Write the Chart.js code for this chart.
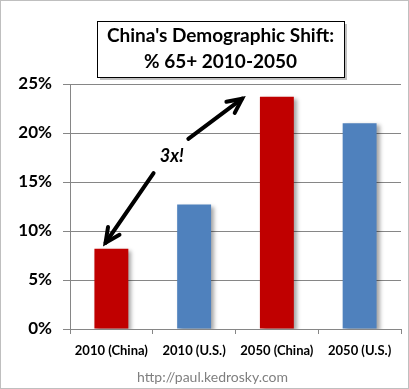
<!DOCTYPE html>
<html><head><meta charset="utf-8">
<script src="https://cdn.jsdelivr.net/npm/chart.js@4/dist/chart.umd.min.js"></script>
<style>html,body{margin:0;padding:0;background:#fff}#wrap{width:409px;height:389px;position:relative;box-sizing:border-box}canvas{display:block}</style>
</head><body><div id="wrap"><canvas id="c" width="409" height="389"></canvas></div>
<script>
const categories = ["2010 (China)", "2010 (U.S.)", "2050 (China)", "2050 (U.S.)"];
const values = [8.2, 12.7, 23.7, 21.0];
const barColors = ["#C00000", "#4F81BD", "#C00000", "#4F81BD"];
const yTicks = [0, 5, 10, 15, 20, 25];
const titleLines = ["China's Demographic Shift:", "% 65+ 2010-2050"];
const footer = "http://paul.kedrosky.com";
const annotationText = "3x!";
// arrow endpoints in (category index, value) terms
const arrowLow = [-0.07, 8.8];
const arrowHigh = [1.58, 23.5];
const arrowGapLow = [0.51, 15.9];
const arrowGapHigh = [0.93, 19.4];
const labelPos = [0.73, 17.6];

const FONT = "Lato, 'Open Sans', sans-serif";

const shadowPlugin = {
  id: 'barShadow',
  beforeDatasetsDraw(chart) {
    const ctx = chart.ctx; ctx.save();
    ctx.shadowColor = 'rgba(0,0,0,0.35)';
    ctx.shadowOffsetX = 3; ctx.shadowOffsetY = 2; ctx.shadowBlur = 4;
  },
  afterDatasetsDraw(chart) { chart.ctx.restore(); }
};

function arrowHead(ctx, x1, y1, x2, y2, len) {
  const a = Math.atan2(y2 - y1, x2 - x1);
  ctx.beginPath();
  ctx.moveTo(x2 - len * Math.cos(a - 0.45), y2 - len * Math.sin(a - 0.45));
  ctx.lineTo(x2, y2);
  ctx.lineTo(x2 - len * Math.cos(a + 0.45), y2 - len * Math.sin(a + 0.45));
  ctx.stroke();
}

const decorPlugin = {
  id: 'decor',
  afterDraw(chart) {
    const ctx = chart.ctx, xs = chart.scales.x, ys = chart.scales.y;
    const px = (p) => [xs.getPixelForValue(0) + p[0] * (xs.getPixelForValue(1) - xs.getPixelForValue(0)), ys.getPixelForValue(p[1])];
    ctx.save();
    // outer frame
    ctx.strokeStyle = '#BFBFBF'; ctx.lineWidth = 1;
    ctx.strokeRect(0.5, 0.5, chart.width - 1, chart.height - 1);
    // arrows
    const lo = px(arrowLow), hi = px(arrowHigh), gl = px(arrowGapLow), gh = px(arrowGapHigh);
    ctx.strokeStyle = '#000'; ctx.lineWidth = 4; ctx.lineCap = 'round'; ctx.lineJoin = 'miter';
    ctx.beginPath(); ctx.moveTo(gl[0], gl[1]); ctx.lineTo(lo[0], lo[1]); ctx.stroke();
    arrowHead(ctx, gl[0], gl[1], lo[0], lo[1], 16);
    ctx.beginPath(); ctx.moveTo(gh[0], gh[1]); ctx.lineTo(hi[0], hi[1]); ctx.stroke();
    arrowHead(ctx, gh[0], gh[1], hi[0], hi[1], 16);
    const lp = px(labelPos);
    ctx.fillStyle = '#000'; ctx.font = 'italic bold 18px ' + FONT;
    ctx.textAlign = 'center'; ctx.textBaseline = 'middle';
    ctx.fillText(annotationText, lp[0], lp[1]);
    // title box
    const bx = 97, by = 21, bw = 247, bh = 56;
    ctx.fillStyle = 'rgba(0,0,0,0.25)';
    ctx.fillRect(bx + 3, by + 3, bw, bh);
    ctx.fillStyle = '#fff'; ctx.fillRect(bx, by, bw, bh);
    ctx.strokeStyle = '#000'; ctx.lineWidth = 1;
    ctx.strokeRect(bx + 0.5, by + 0.5, bw, bh);
    ctx.fillStyle = '#000'; ctx.font = 'bold 19px ' + FONT;
    ctx.fillText(titleLines[0], bx + bw / 2, 36);
    ctx.fillText(titleLines[1], bx + bw / 2, 62);
    // footer
    ctx.fillStyle = '#7F7F7F'; ctx.font = '14px ' + FONT;
    ctx.fillText(footer, (chart.width) / 2 + 8, 377);
    ctx.restore();
  }
};

new Chart(document.getElementById('c'), {
  type: 'bar',
  data: { labels: categories, datasets: [{ data: values, backgroundColor: barColors, barPercentage: 0.41, categoryPercentage: 1 }] },
  options: {
    responsive: false, animation: false,
    layout: { padding: { left: 0, right: 8, top: 84, bottom: 0 } },
    plugins: { legend: { display: false }, tooltip: { enabled: false } },
    scales: {
      x: {
        offset: true,
        grid: { display: true, drawOnChartArea: false, drawTicks: true, tickLength: 5, color: '#868686', offset: true },
        border: { color: '#868686' },
        ticks: { color: '#000', font: { family: FONT, weight: 'bold', size: 13 }, padding: 9 },
        afterFit(a) { a.height = 60; }
      },
      y: {
        min: 0, max: 25,
        afterBuildTicks(a) { a.ticks = yTicks.map(v => ({ value: v })); },
        grid: { color: '#868686', tickLength: 7 },
        border: { color: '#868686' },
        ticks: { color: '#000', font: { family: FONT, weight: 'bold', size: 17 }, padding: 11, callback: v => v + '%' },
        afterFit(a) { a.width = 70; }
      }
    }
  },
  plugins: [shadowPlugin, decorPlugin]
});
</script></body></html>
